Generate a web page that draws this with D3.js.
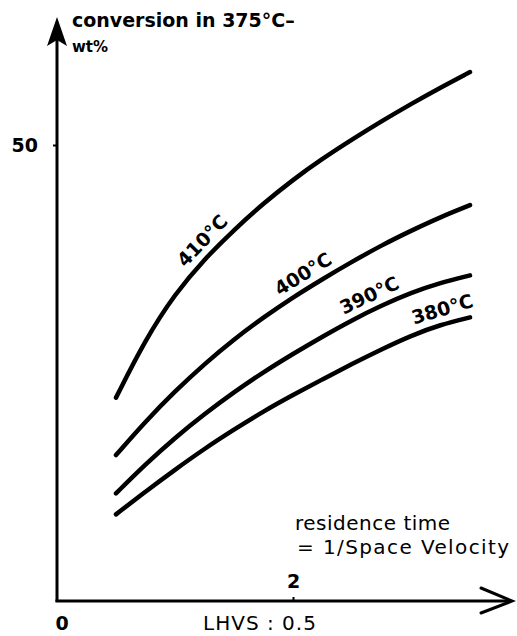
<!DOCTYPE html>
<meta charset="utf-8">
<head>
    <style>
        body { margin: 0; background: #fff; }
        text { font-family: "DejaVu Sans", Arial, sans-serif; fill: #000; }
        .curve { fill: none; stroke: #000; stroke-width: 4.5; stroke-linecap: round; stroke-linejoin: round; }
        .axisline { fill: none; stroke: #000; stroke-width: 3; }
        .lbl { font-weight: bold; font-size: 19px; }
    </style>
    <script src="https://d3js.org/d3.v7.min.js"></script>
</head>
<body>
<svg id="chart"></svg>
<script>
    // residence time (1/space velocity) and conversion in wt%
    var residence = [0.5, 0.75, 1.0, 1.25, 1.5, 1.75, 2.0, 2.25, 2.5, 2.75, 3.0, 3.25, 3.5];
    var conv410 = [22.3, 28.7, 33.7, 37.5, 40.7, 43.6, 46.2, 48.5, 50.6, 52.6, 54.5, 56.3, 58.0];
    var conv400 = [16.0, 19.7, 23.0, 26.0, 28.7, 31.1, 33.3, 35.3, 37.2, 39.0, 40.6, 42.1, 43.4];
    var conv390 = [11.8, 15.0, 17.9, 20.5, 22.9, 25.1, 27.1, 29.0, 30.8, 32.4, 33.8, 34.9, 35.7];
    var conv380 = [9.5, 12.0, 14.4, 16.7, 18.8, 20.8, 22.6, 24.3, 26.0, 27.6, 29.1, 30.3, 31.1];
    var seriesNames = ["410°C", "400°C", "390°C", "380°C"];
    var labelAt = [1.32, 2.15, 2.7, 3.3];   // where each label sits along its curve
    var yTicks = [50];
    var xTicks = [2];

    var width = 517, height = 636;

    var svg = d3.select("#chart")
        .attr("width", width)
        .attr("height", height);

    var x = d3.scaleLinear().domain([0, 2]).range([57, 293]);
    var y = d3.scaleLinear().domain([0, 50]).range([601, 145]);

    // axis lines with arrows
    var x0 = x(0), y0 = y(0);
    svg.append("path").attr("class", "axisline")
        .attr("d", "M" + x0 + "," + (y0 + 1) + "V40");
    svg.append("path")
        .attr("d", "M" + x0 + ",17L" + (x0 - 10) + ",46L" + x0 + ",40L" + (x0 + 10) + ",46Z")
        .attr("fill", "#000");
    svg.append("path").attr("class", "axisline")
        .attr("d", "M" + (x0 - 1.5) + "," + y0 + "H511");
    svg.append("path").attr("class", "axisline")
        .attr("stroke-linecap", "round")
        .attr("d", "M481,588L512," + y0 + "L481,613");

    // ticks
    var yAxis = svg.append("g")
        .attr("transform", "translate(" + x0 + ",0)")
        .call(d3.axisLeft(y).tickValues(yTicks).tickSize(4).tickPadding(15).tickFormat(d3.format("d")));
    var xAxis = svg.append("g")
        .attr("transform", "translate(0," + y0 + ")")
        .call(d3.axisTop(x).tickValues(xTicks).tickSize(4).tickPadding(9).tickFormat(d3.format("d")));
    [yAxis, xAxis].forEach(function (g) {
        g.select(".domain").remove();
        g.selectAll(".tick line").attr("stroke", "#000").attr("stroke-width", 2);
        g.selectAll(".tick text")
            .style("font-family", "DejaVu Sans, sans-serif")
            .style("font-weight", "bold")
            .style("font-size", "19px")
            .attr("fill", "#000");
    });

    // curves
    var all = [conv410, conv400, conv390, conv380];
    var line = d3.line()
        .x(function (d) { return x(d[0]); })
        .y(function (d) { return y(d[1]); })
        .curve(d3.curveBasis);

    all.forEach(function (vals, i) {
        var pts = residence.map(function (r, j) { return [r, vals[j]]; });
        svg.append("path").attr("class", "curve").attr("d", line(pts));

        // label along the curve
        var lx = labelAt[i];
        var ly = d3.scaleLinear().domain(residence).range(vals);
        var xa = x(lx - 0.25), ya = y(ly(lx - 0.25));
        var xb = x(lx + 0.25), yb = y(ly(lx + 0.25));
        var ang = Math.atan2(yb - ya, xb - xa);
        var px = x(lx) + Math.sin(ang) * 8, py = y(ly(lx)) - Math.cos(ang) * 8;
        svg.append("text").attr("class", "lbl")
            .attr("text-anchor", "middle")
            .attr("transform", "translate(" + px + "," + py + ")rotate(" + (ang * 180 / Math.PI) + ")")
            .text(seriesNames[i]);
    });

    // titles
    svg.append("text").attr("x", 72).attr("y", 27)
        .style("font-weight", "bold").style("font-size", "19px")
        .text("conversion in 375°C–");
    svg.append("text").attr("x", 72).attr("y", 52)
        .style("font-weight", "bold").style("font-size", "15px")
        .text("wt%");
    svg.append("text").attr("x", 295).attr("y", 530)
        .style("font-size", "20px").style("letter-spacing", "0.5px")
        .text("residence time");
    svg.append("text").attr("x", 297).attr("y", 554)
        .style("font-size", "20px").style("letter-spacing", "1.4px")
        .text("= 1/Space Velocity");
    svg.append("text").attr("x", 62).attr("y", 630)
        .attr("text-anchor", "middle")
        .style("font-weight", "bold").style("font-size", "19px")
        .text("0");
    svg.append("text").attr("x", 260).attr("y", 630)
        .attr("text-anchor", "middle")
        .style("font-size", "20px").style("letter-spacing", "1px")
        .text("LHVS : 0.5");
</script>
</body>
